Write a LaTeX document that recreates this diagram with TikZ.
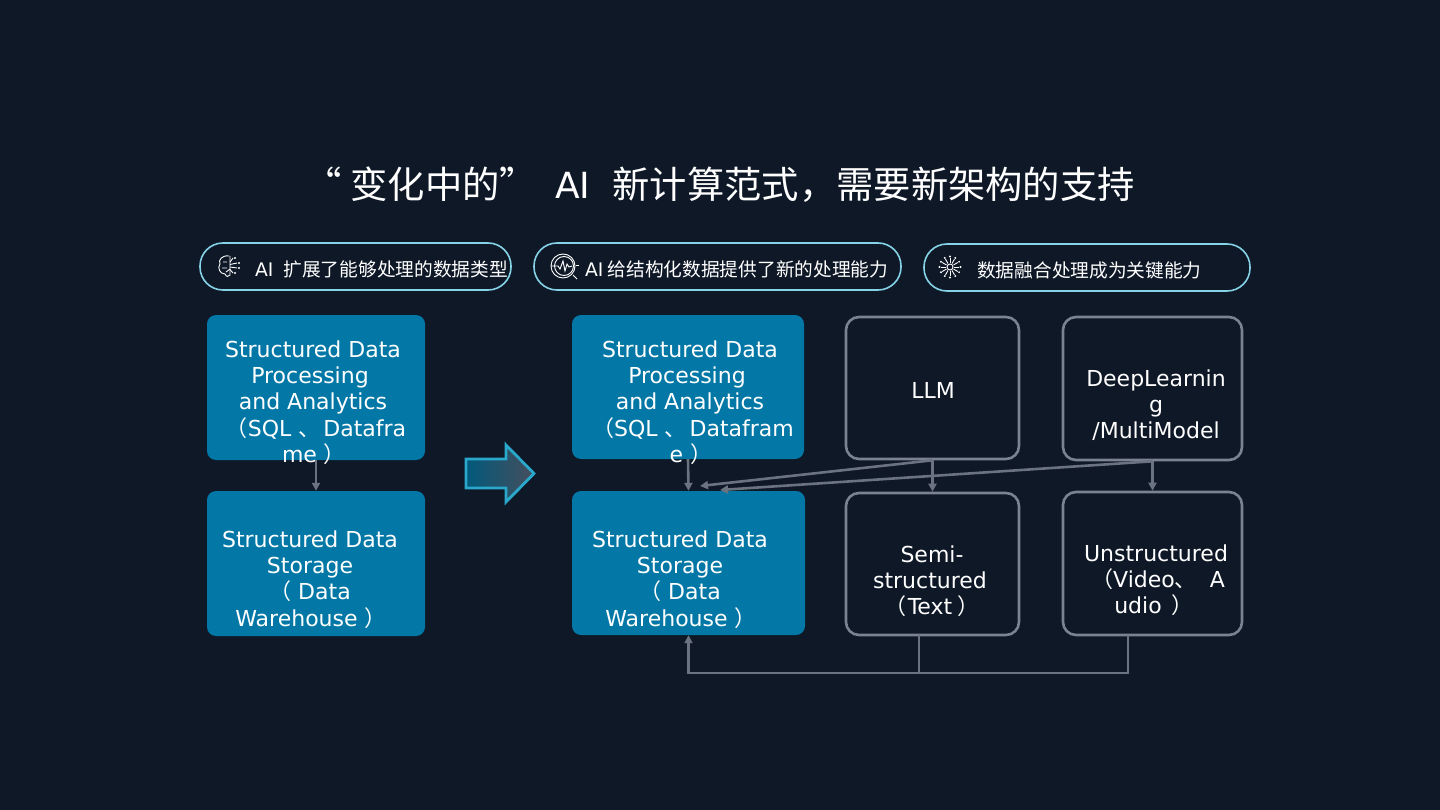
\documentclass[tikz,border=0pt]{standalone}
\usepackage{fontspec}
\setmainfont{DejaVu Sans}
\newfontfamily\cjk{Noto Sans CJK SC}
\usetikzlibrary{
positioning,
arrows.meta,
calc
}
\definecolor{bgdark}{HTML}{0E1827}
\definecolor{bluefill}{HTML}{0377A5}
\definecolor{grayline}{HTML}{7B8290}
\definecolor{arrowgray}{HTML}{6B7280}
\definecolor{pillline}{HTML}{86D3E8}
\definecolor{arrowline}{HTML}{2AA8CC}
\newcommand{\shiftln}[2]{\hspace*{#1pt}#2}
\tikzset{
bluebox/.style={
rounded corners=9pt,
fill=bluefill,
inner sep=0pt
},
darkbox/.style={
draw=grayline,
line width=2.6pt,
rounded corners=13pt,
inner sep=0pt
},
pill/.style={
draw=pillline,
line width=1.6pt,
rounded corners=23pt,
inner sep=0pt,
minimum height=47pt
},
boxtext/.style={
text=white,
align=center,
inner sep=0pt,
font=\fontsize{22}{26.2}\selectfont
},
pilltext/.style={
text=white,
inner sep=0pt,
anchor=west,
font=\cjk\fontsize{18.7}{22}\selectfont
},
arrow/.style={
-{Triangle[length=8pt,width=8pt]},
draw=arrowgray,
line width=2.6pt
},
plainline/.style={
draw=arrowgray,
line width=2.8pt
},
icon/.style={
draw=white,
line width=.9pt
}
}

\begin{document}
\begin{tikzpicture}[x=1pt,y=-1pt]

\fill[bgdark] (0,0) rectangle (1440,810);
\useasboundingbox (0,0) rectangle (1440,810);

\node[text=white, inner sep=0pt, anchor=east, font=\cjk\fontsize{37.3}{40}\selectfont] (title) at (1135,184.5) {“ 变化中的”\hspace{18pt}{\rmfamily\fontsize{36}{40}\selectfont AI}\hspace{14pt} 新计算范式，需要新架构的支持};

% pills
\node[pill, minimum width=311pt] (pillA) at (355.5,266.5) {};
\node[pill, minimum width=367pt] (pillB) at (717.5,266.5) {};
\node[pill, minimum width=326pt] (pillC) at (1087,267.5) {};
\node[pilltext] (pillAtext) at (255,269.5) {{\rmfamily AI}\hspace{10pt}扩展了能够处理的数据类型};
\node[pilltext] (pillBtext) at (585,269.5) {{\rmfamily AI} 给结构化数据提供了新的处理能力};
\node[pilltext] (pillCtext) at (977,270.5) {数据融合处理成为关键能力};

% icons
\begin{scope}[shift={(229,266)}]
\draw[icon] (0,-10) .. controls (-7,-11) and (-11,-6) .. (-9,-2) .. controls (-12,2) and (-9,8) .. (-4,8) .. controls (-3,11) and (0,11) .. (1,9) -- (1,-10);
\draw[icon] (-6,-4) -- (-2,-4) (-7,2) -- (-2,2) (-3,6) -- (1,3);
\foreach \yy/\xx in {-8/6,-3/10,2/10,7/6} {
\draw[icon] (1,\yy/2) -- (\xx-2,\yy);
\fill[white] (\xx,\yy) circle (1.2);
}
\end{scope}
\begin{scope}[shift={(564,266)}]
\draw[icon] (0,0) circle (9.5);
\draw[icon] (-1,0) circle (12) ;
\draw[icon] (-13,0) -- (-6,0) -- (-4,3) -- (-1,-5) -- (1,5) -- (3,-2) -- (5,1) -- (8,0);
\draw[icon] (9,9) -- (13,13);
\draw[icon] (12,-1) -- (15,-1);
\end{scope}
\begin{scope}[shift={(950,267)}]
\foreach \ang in {0,30,...,330} {
\draw[icon] (\ang:4) -- (\ang:9);
\fill[white] (\ang:10.5) circle (1.1);
}
\draw[icon] (0,0) circle (3);
\end{scope}

% left column
\node[bluebox, minimum width=218pt, minimum height=145pt] (procL) at (316,387.5) {};
\node[bluebox, minimum width=218pt, minimum height=145pt] (storeL) at (316,563.5) {};
\node[boxtext] (procLtext) at (313,402.5) {Structured Data\\\shiftln{-6}{Processing}\\and Analytics\\\shiftln{6}{{\cjk（}SQL {\cjk、}\hspace{-4pt} Datafra}\\\shiftln{2}{me {\cjk）}}};
\node[boxtext] (storeLtext) at (310,579.5) {Structured Data\\Storage\\\shiftln{0}{{\cjk（} Data}\\\shiftln{2}{Warehouse {\cjk）}}};

% right column
\node[bluebox, minimum width=232pt, minimum height=144pt] (procR) at (688,387) {};
\node[bluebox, minimum width=233pt, minimum height=144pt] (storeR) at (688.5,563) {};
\node[boxtext] (procRtext) at (690,402.5) {Structured Data\\\shiftln{-6}{Processing}\\and Analytics\\\shiftln{6}{{\cjk（}SQL {\cjk、}\hspace{-4pt} Datafram}\\\shiftln{2}{e {\cjk）}}};
\node[boxtext] (storeRtext) at (680,579.5) {Structured Data\\Storage\\\shiftln{0}{{\cjk（} Data}\\\shiftln{2}{Warehouse {\cjk）}}};

\node[darkbox, minimum width=173pt, minimum height=142pt] (llm) at (932.5,388) {};
\node[boxtext] (llmtext) at (933,390) {LLM};
\node[darkbox, minimum width=173pt, minimum height=142pt] (semi) at (932.5,564) {};
\node[boxtext] (semitext) at (930,581) {\shiftln{4}{Semi-}\\structured\\\shiftln{4}{{\cjk（}\hspace{1pt}Text\hspace{5pt}{\cjk）}}};
\node[darkbox, minimum width=179pt, minimum height=143pt] (deep) at (1152.5,388.5) {};
\node[boxtext] (deeptext) at (1156,405) {DeepLearnin\\g\\/MultiModel};
\node[darkbox, minimum width=179pt, minimum height=143pt] (unst) at (1152.5,563.5) {};
\node[boxtext] (unsttext) at (1156,580) {Unstructured\\\shiftln{4}{{\cjk（}Video{\cjk、}\hspace{6pt} A}\\\shiftln{-4}{udio\hspace{3pt} {\cjk）}}};

% big arrow
\draw[draw=arrowline, line width=2.8pt, left color=bluefill!75!black, right color=arrowgray!60!bgdark, shading angle=90] (466,459) -- (506,459) -- (506,445) -- (534,473.5) -- (506,502) -- (506,488) -- (466,488) -- cycle;

% connectors
\coordinate (procRin) at (700,486);
\coordinate (procRin2) at (720,490);
\coordinate (semiup) at (919,635);
\coordinate (unstup) at (1128,635);
\coordinate (busleft) at (919,673);

\draw[arrow] (procL.south) -- (storeL.north);
\draw[arrow] (procR.south) -- (storeR.north);
\draw[arrow] (llm.south) -- (semi.north);
\draw[arrow] (deep.south) -- (unst.north);
\draw[arrow] (llm.south) -- (procRin);
\draw[arrow] (deep.south) -- (procRin2);
\draw[plainline] (semiup) -- (busleft);
\draw[arrow, line width=2.8pt] (unstup) |- (busleft) -| (storeR.south);

\end{tikzpicture}
\end{document}
